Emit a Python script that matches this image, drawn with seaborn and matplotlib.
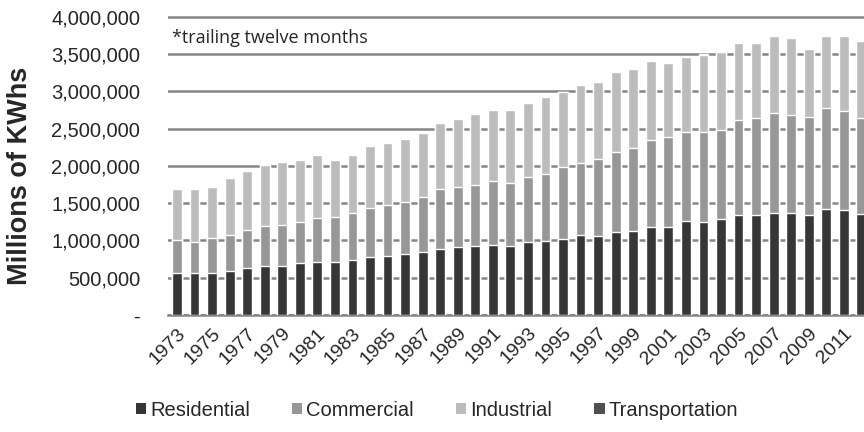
import numpy as np
import pandas as pd
import matplotlib
matplotlib.use("Agg")
import matplotlib.pyplot as plt
from matplotlib.patches import Patch
from matplotlib.ticker import FuncFormatter
import seaborn as sns

# electricity retail sales by sector, millions of kWh
years = list(range(1973, 2013))
residential = [568, 560, 568, 595, 631, 658, 662, 698, 707, 716,
               738, 783, 796, 819, 850, 886, 909, 926, 944, 926,
               984, 998, 1020, 1069, 1060, 1110, 1132, 1186, 1186, 1257,
               1253, 1284, 1342, 1338, 1374, 1365, 1342, 1423, 1405, 1356]
commercial = [439, 424, 462, 479, 510, 537, 546, 554, 591, 603,
              627, 649, 681, 702, 738, 801, 805, 819, 859, 842,
              873, 895, 971, 976, 1029, 1083, 1105, 1163, 1199, 1204,
              1208, 1199, 1275, 1302, 1333, 1320, 1320, 1351, 1338, 1284]
industrial = [684, 711, 692, 765, 796, 814, 850, 829, 850, 757,
              779, 836, 836, 837, 851, 894, 917, 953, 944, 979,
              985, 1029, 1007, 1038, 1039, 1064, 1061, 1065, 1002, 998,
              1031, 1045, 1030, 1013, 1043, 1034, 914, 967, 998, 1035]
transportation = [0] * 30 + [7, 7, 8, 7, 8, 8, 8, 8, 8, 7]

sectors = ["Residential", "Commercial", "Industrial", "Transportation"]
colors = ["#363636", "#979797", "#bcbcbc", "#505050"]

df = pd.DataFrame({
    "year": [str(y) for y in years],
    "Residential": np.array(residential) * 1000,
    "Commercial": np.array(commercial) * 1000,
    "Industrial": np.array(industrial) * 1000,
    "Transportation": np.array(transportation) * 1000,
})

sns.set_theme(style="white")
plt.rcParams["font.family"] = ["Liberation Sans", "DejaVu Sans"]

fig = plt.figure(figsize=(8.64, 4.32), dpi=100)
ax = fig.add_axes([168 / 864, 1 - 315 / 432, 1 - 168 / 864, (315 - 15.5) / 432])

# stacked bars: draw cumulative totals from the top layer down
cum = df[sectors].cumsum(axis=1)
for sector, color in reversed(list(zip(sectors, colors))):
    sns.barplot(x=df["year"], y=cum[sector], color=color, width=0.56,
                saturation=1, errorbar=None, ax=ax, zorder=3)

ax.set_xlim(-0.51, 39.15)
ax.set_ylim(0, 4020000)
ax.set_yticks(np.arange(0, 4000001, 500000))
ax.yaxis.set_major_formatter(FuncFormatter(lambda v, p: "-" if v == 0 else f"{v:,.0f}"))
ax.set_xticks(range(0, 40, 2))
ax.set_xticklabels([str(y) for y in years[::2]], rotation=45, ha="right",
                   rotation_mode="anchor", fontsize=14)
ax.tick_params(axis="y", labelsize=14.5, length=0, pad=20)
ax.tick_params(axis="x", length=0, pad=7)
ax.set_xlabel("")
ax.set_ylabel("")

ax.yaxis.grid(True, color="#858585", linewidth=1.8)
ax.set_axisbelow(True)
for side in ["left", "top", "right"]:
    ax.spines[side].set_visible(False)
ax.spines["bottom"].set_color("#858585")
ax.spines["bottom"].set_linewidth(1.8)

fig.text(20 / 864, 1 - 176 / 432, "Millions of KWhs", rotation=90, fontsize=19.5,
         fontweight="bold", ha="center", va="center")
fig.text(172 / 864, 1 - 38 / 432, "*trailing twelve months", fontsize=13,
         family=["Open Sans", "DejaVu Sans"], ha="left", va="center")

handles = [Patch(facecolor=c, edgecolor="none") for c in colors]
fig.legend(handles, sectors, loc="center", bbox_to_anchor=(437 / 864, 1 - 410 / 432),
           ncol=4, frameon=False, fontsize=14.5, handlelength=0.5, handleheight=0.5,
           handletextpad=0.2, columnspacing=2.1)

fig.savefig("out.png", dpi=100)
